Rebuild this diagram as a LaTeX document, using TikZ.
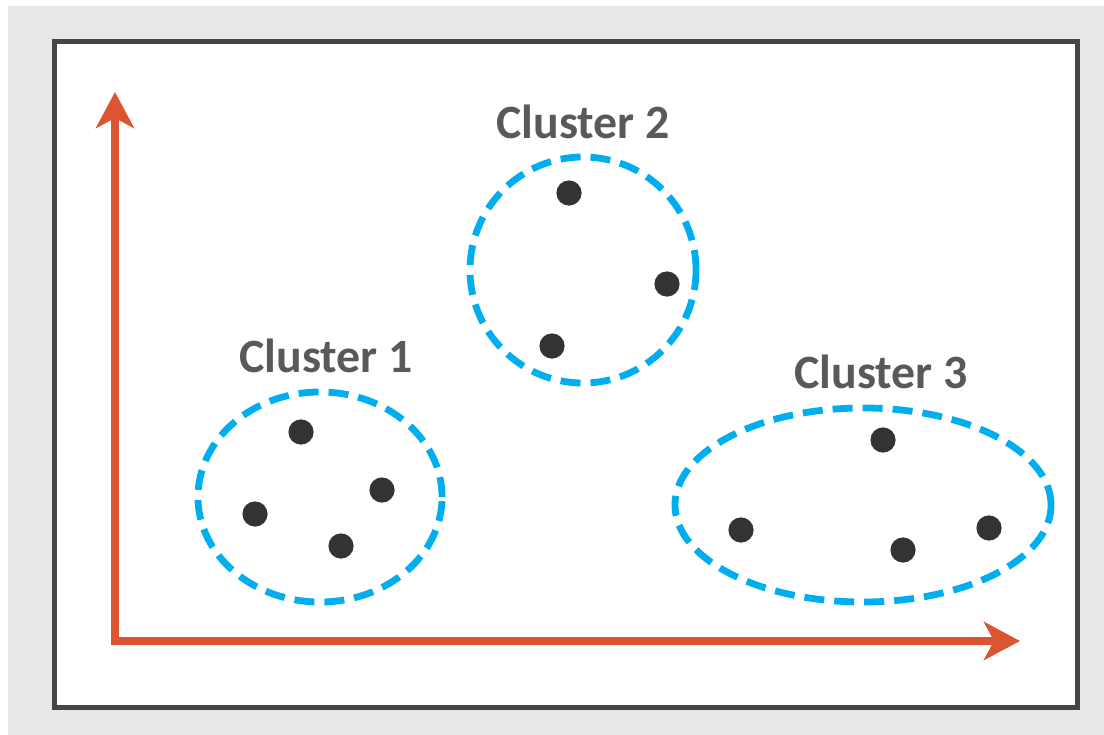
\documentclass[tikz,border=0pt]{standalone}
\usepackage{fontspec}
\setmainfont{Carlito}
\usepackage{xcolor}
\usetikzlibrary{arrows.meta,shapes.geometric}

\definecolor{axisred}{HTML}{DB5530}
\definecolor{clusterblue}{HTML}{00AEEF}
\definecolor{dotgray}{HTML}{333333}
\definecolor{labelgray}{HTML}{595959}
\definecolor{framegray}{HTML}{454545}
\definecolor{backgray}{HTML}{E8E8E8}

\begin{document}
\begin{tikzpicture}[x=0.025cm, y=-0.025cm,
    axis/.style={axisred, line width=0.18cm,
        {Stealth[length=0.9cm, width=0.95cm, inset=0.25cm]}-{Stealth[length=0.9cm, width=0.95cm, inset=0.25cm]}},
    cluster/.style={draw=clusterblue, ellipse, line width=0.17cm,
        dash pattern=on 0.5cm off 0.25cm, inner sep=0pt},
    point/.style={circle, fill=dotgray, minimum size=0.63cm, inner sep=0pt},
    clabel/.style={text=labelgray, font=\fontsize{34}{40}\selectfont\bfseries}]

% background and frame
\useasboundingbox (0,0) rectangle (1104,735);
\fill[backgray] (8,6) rectangle (1104,735);
\draw[framegray, fill=white, line width=0.125cm] (54,42) rectangle (1077,707);

% axes
\coordinate (origin) at (115,641);
\coordinate (y_end) at (115,92);
\coordinate (x_end) at (1020,641);
\draw[axis] (y_end) -- (origin) -- (x_end);

% clusters
\node[cluster, minimum width=6.1cm, minimum height=5.25cm] (cluster_1) at (320,497) {};
\node[cluster, minimum width=5.65cm, minimum height=5.65cm] (cluster_2) at (583,270) {};
\node[cluster, minimum width=9.4cm, minimum height=4.85cm] (cluster_3) at (863,505) {};

\node[clabel] (label_1) at (326,356) {Cluster 1};
\node[clabel] (label_2) at (583,122) {Cluster 2};
\node[clabel] (label_3) at (881,372) {Cluster 3};

% points
\node[point] (p_1a) at (301,432) {};
\node[point] (p_1b) at (382,490) {};
\node[point] (p_1c) at (255,514) {};
\node[point] (p_1d) at (341,546) {};

\node[point] (p_2a) at (569,193) {};
\node[point] (p_2b) at (667,284) {};
\node[point] (p_2c) at (552,346) {};

\node[point] (p_3a) at (883,440) {};
\node[point] (p_3b) at (741,530) {};
\node[point] (p_3c) at (903,550) {};
\node[point] (p_3d) at (989,528) {};

\end{tikzpicture}
\end{document}
